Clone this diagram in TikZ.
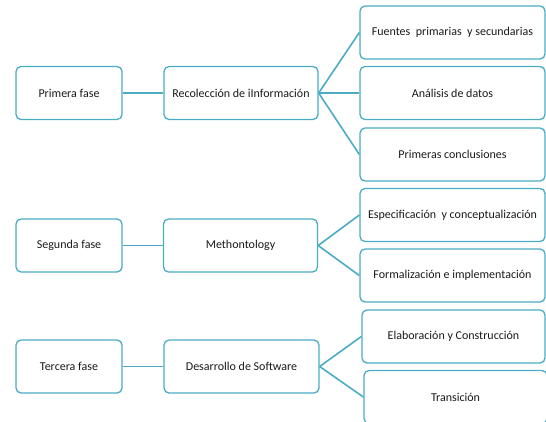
\documentclass[tikz,border=0pt]{standalone}
\usepackage{fontspec}
\setmainfont{Carlito}
\definecolor{teal}{HTML}{4BACC6}
\definecolor{txt}{HTML}{1A1A1A}
\begin{document}
\begin{tikzpicture}[x=1pt,y=-1pt,
  box/.style={draw=teal, line width=1.3pt, rounded corners=5pt, fill=white,
    inner sep=0pt, minimum height=53pt, text=txt, font=\fontsize{12}{14}\selectfont},
  leftbox/.style={box, minimum width=106pt},
  midbox/.style={box, minimum width=154pt},
  rightbox/.style={box, minimum width=185pt},
  link/.style={draw=teal, line width=1.6pt}]
\useasboundingbox (0,0) rectangle (546,421);
\begin{scope}
\clip (0,0) rectangle (546,421);
% left column
\node[leftbox] (f1) at (69,93) {Primera fase};
\node[leftbox] (f2) at (69,245.5) {Segunda fase};
\node[leftbox] (f3) at (69,366.5) {Tercera fase};
% middle column
\node[midbox] (m1) at (241,93) {Recolección de iInformación};
\node[midbox] (m2) at (240.5,245.5) {Methontology};
\node[midbox, minimum width=155pt] (m3) at (241.5,366.5) {Desarrollo de Software};
% right column
\node[rightbox] (r1) at (452.5,32.5) {Fuentes\ \ primarias\ \ y secundarias};
\node[rightbox] (r2) at (452.5,93) {Análisis de datos};
\node[rightbox] (r3) at (452.5,154.5) {Primeras conclusiones};
\node[rightbox] (r4) at (452.5,215) {Especificación\ \ y conceptualización};
\node[rightbox] (r5) at (452.5,275.5) {Formalización e implementación};
\node[rightbox, minimum width=183pt] (r6) at (453.5,336.5) {Elaboración y Construcción};
\node[rightbox, minimum width=183pt] (r7) at (455.5,397) {Transición};
% connectors
\draw[link] (f1.east) -- (m1.west);
\draw[link] (f2.east) -- (m2.west);
\draw[link] (f3.east) -- (m3.west);
\draw[link] (m1.east) -- (r1.west);
\draw[link] (m1.east) -- (r2.west);
\draw[link] (m1.east) -- (r3.west);
\draw[link] (m2.east) -- (r4.west);
\draw[link] (m2.east) -- (r5.west);
\draw[link] (m3.east) -- (r6.west);
\draw[link] (m3.east) -- (r7.west);
\end{scope}
\end{tikzpicture}
\end{document}
